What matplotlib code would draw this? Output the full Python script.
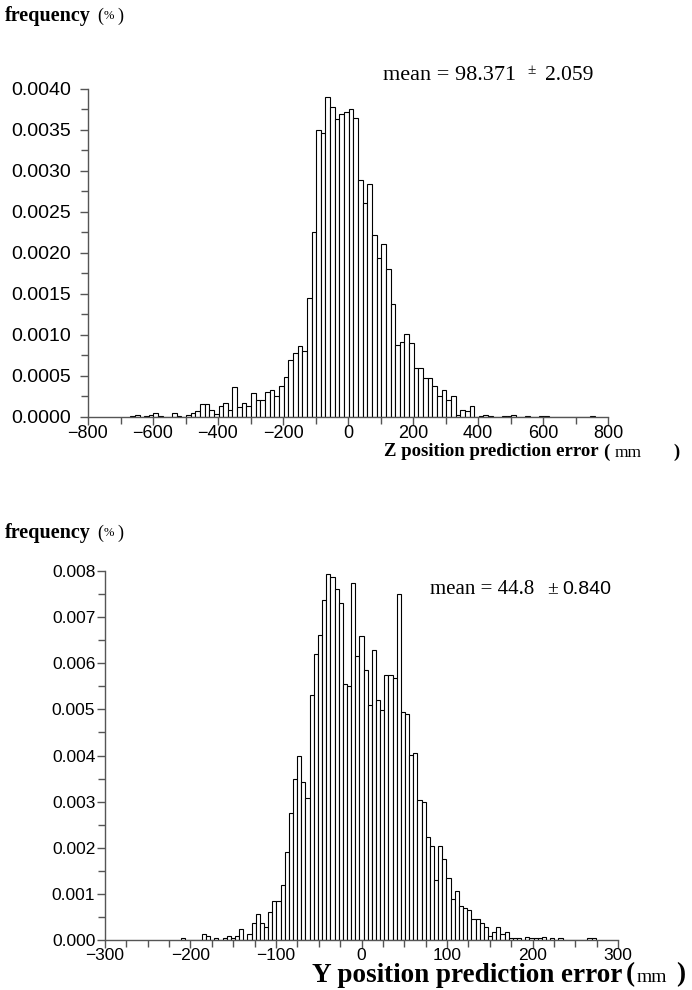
import numpy as np
import matplotlib
matplotlib.use("Agg")
import matplotlib.pyplot as plt
from matplotlib.ticker import MultipleLocator, FormatStrFormatter

# Z error histogram: first bin edge, bin width, frequency of each bin
z_first_edge = -670.0
z_bin_width = 14.3
z_freq = [
    0.00001, 0.00003, 0.0, 0.00001, 0.00003, 0.00005, 0.00001, 0.0, 0.0, 0.00005,
    0.00001, 0.0, 0.00002, 0.00005, 0.00007, 0.00016, 0.00016, 0.00008, 0.00004, 0.00014,
    0.00017, 0.00009, 0.00037, 0.00012, 0.00017, 0.00014, 0.00029, 0.00021, 0.00021, 0.00030,
    0.00033, 0.00026, 0.00038, 0.00049, 0.00069, 0.00078, 0.00086, 0.00080, 0.00145, 0.00225,
    0.00350, 0.00346, 0.00390, 0.00378, 0.00364, 0.00370, 0.00372, 0.00376, 0.00365, 0.00289,
    0.00261, 0.00284, 0.00222, 0.00194, 0.00211, 0.00181, 0.00138, 0.00088, 0.00092, 0.00101,
    0.00090, 0.00060, 0.00060, 0.00048, 0.00048, 0.00038, 0.00026, 0.00033, 0.00021, 0.00025,
    0.00003, 0.00008, 0.00007, 0.00013, 0.0, 0.00001, 0.00003, 0.00001, 0.0, 0.0,
    0.00001, 0.00001, 0.00003, 0.0, 0.0, 0.00001, 0.0, 0.0, 0.00001, 0.00001,
    0.0, 0.0, 0.0, 0.0, 0.0, 0.0, 0.0, 0.0, 0.0, 0.00001,
]

# Y error histogram
y_first_edge = -211.0
y_bin_width = 4.85
y_freq = [
    0.00004, 0.0, 0.0, 0.0, 0.0, 0.00013, 0.00009, 0.0, 0.00004, 0.0,
    0.00004, 0.00009, 0.00004, 0.00009, 0.00023, 0.0, 0.00013, 0.00036, 0.00056, 0.00036,
    0.00028, 0.00060, 0.00084, 0.00084, 0.00120, 0.00190, 0.00275, 0.00350, 0.00400, 0.00342,
    0.00308, 0.00532, 0.00620, 0.00662, 0.00738, 0.00793, 0.00787, 0.00760, 0.00730, 0.00556,
    0.00550, 0.00775, 0.00615, 0.00658, 0.00585, 0.00509, 0.00629, 0.00520, 0.00498, 0.00575,
    0.00575, 0.00567, 0.00751, 0.00495, 0.00490, 0.00402, 0.00405, 0.00304, 0.00300, 0.00223,
    0.00204, 0.00130, 0.00204, 0.00176, 0.00135, 0.00089, 0.00107, 0.00073, 0.00069, 0.00064,
    0.00045, 0.00045, 0.00036, 0.00029, 0.00009, 0.00018, 0.00028, 0.00013, 0.00018, 0.00004,
    0.00004, 0.00004, 0.0, 0.00007, 0.00004, 0.00004, 0.00004, 0.00007, 0.0, 0.00004,
    0.0, 0.00004, 0.0, 0.0, 0.0, 0.0, 0.0, 0.0, 0.00004, 0.00004,
]

z_mean, z_err = "mean = 98.371", "2.059"
y_mean, y_err = "mean = 44.8", "0.840"

W, H = 692, 990
AXIS_COLOR = "#555555"
SERIF = "Liberation Serif"
SANS = "Liberation Sans"


def draw_hist(ax, first_edge, width, freq):
    '''Гистограмма из белых столбиков с чёрной рамкой'''
    edges = first_edge + width * np.arange(len(freq))
    ax.bar(edges, freq, width=width, align="edge", facecolor="white",
           edgecolor="black", linewidth=0.8, zorder=2)


def style_axes(ax, xsize, ysize, ypad):
    for side in ("top", "right"):
        ax.spines[side].set_visible(False)
    for side in ("left", "bottom"):
        ax.spines[side].set_color(AXIS_COLOR)
        ax.spines[side].set_linewidth(1.0)
        ax.spines[side].set_zorder(3)
    ax.tick_params(which="both", direction="out", color=AXIS_COLOR, width=1.0)
    ax.tick_params(which="major", length=6)
    ax.tick_params(which="minor", length=5)
    ax.tick_params(axis="x", labelsize=xsize, pad=0)
    ax.tick_params(axis="y", labelsize=ysize, pad=ypad)
    for lab in ax.get_xticklabels() + ax.get_yticklabels():
        lab.set_family(SANS)


def px(x, y):
    return x / W, 1 - y / H


def text(fig, x, y, s, **kw):
    fig.text(*px(x, y), s, va="center", **kw)


def main():
    fig = plt.figure(figsize=(W / 100, H / 100), dpi=100)

    # верхний график
    ax1 = fig.add_axes([88 / W, 1 - 417 / H, 520 / W, 328 / H])
    draw_hist(ax1, z_first_edge, z_bin_width, z_freq)
    ax1.set_xlim(-800, 800)
    ax1.set_ylim(0, 0.004)
    ax1.xaxis.set_major_locator(MultipleLocator(200))
    ax1.xaxis.set_minor_locator(MultipleLocator(100))
    ax1.yaxis.set_major_locator(MultipleLocator(0.0005))
    ax1.yaxis.set_minor_locator(MultipleLocator(0.00025))
    ax1.yaxis.set_major_formatter(FormatStrFormatter("%.4f"))
    style_axes(ax1, 13, 14, 6)

    # нижний график
    ax2 = fig.add_axes([105 / W, 1 - 940 / H, 513 / W, 369 / H])
    draw_hist(ax2, y_first_edge, y_bin_width, y_freq)
    ax2.set_xlim(-300, 300)
    ax2.set_ylim(0, 0.008)
    ax2.xaxis.set_major_locator(MultipleLocator(100))
    ax2.xaxis.set_minor_locator(MultipleLocator(25))
    ax2.yaxis.set_major_locator(MultipleLocator(0.001))
    ax2.yaxis.set_minor_locator(MultipleLocator(0.0005))
    ax2.yaxis.set_major_formatter(FormatStrFormatter("%.3f"))
    style_axes(ax2, 12.5, 12.5, 1)

    # подписи осей
    bold = dict(family=SERIF, fontweight="bold")
    reg = dict(family=SERIF)

    for y in (16, 533):
        text(fig, 5, y, "frequency", ha="left", fontsize=14.5, **bold)
        text(fig, 97, y, "(", ha="left", fontsize=13, **reg)
        text(fig, 104, y, "%", ha="left", fontsize=9, **reg)
        text(fig, 117, y, ")", ha="left", fontsize=13, **reg)

    text(fig, 599, 452, "Z position prediction error", ha="right",
         fontsize=13.5, **bold)
    text(fig, 603, 452, "(", ha="left", fontsize=13.5, **bold)
    text(fig, 615, 453, "mm", ha="left", fontsize=12.5, **reg)
    text(fig, 673, 452, ")", ha="left", fontsize=13.5, **bold)

    text(fig, 622, 975, "Y position prediction error", ha="right",
         fontsize=19.5, **bold)
    text(fig, 626, 975, "(", ha="left", fontsize=19.5, **bold)
    text(fig, 637, 977, "mm", ha="left", fontsize=14, **reg)
    text(fig, 676, 975, ")", ha="left", fontsize=19.5, **bold)

    # средние значения
    text(fig, 383, 75, z_mean, ha="left", fontsize=16, **reg)
    text(fig, 527, 71, "\u00b1", ha="left", fontsize=11, **reg)
    text(fig, 545, 75, z_err, ha="left", fontsize=15.5, **reg)

    text(fig, 430, 590, y_mean, ha="left", fontsize=15, **reg)
    text(fig, 547, 589, "\u00b1", ha="left", fontsize=14, **reg)
    text(fig, 562, 590, y_err, ha="left", fontsize=14, family=SANS)

    fig.savefig("out.png", dpi=100)


if __name__ == "__main__":
    main()
